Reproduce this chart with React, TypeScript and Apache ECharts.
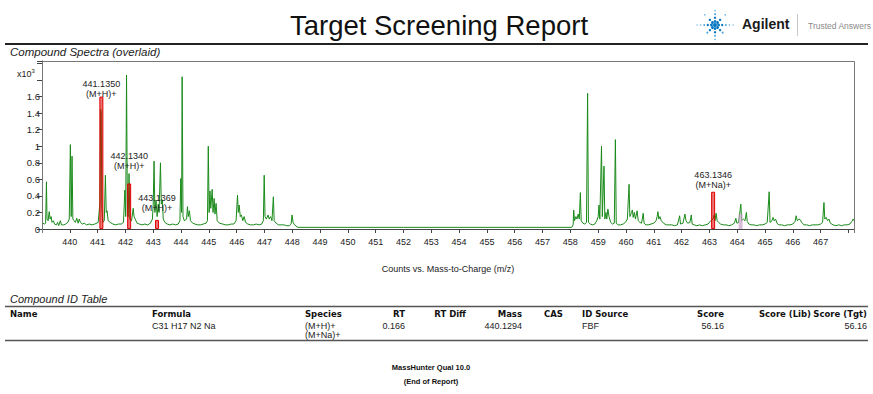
import React, { useEffect, useRef } from "react";
import * as echarts from "echarts";

// Green overlaid spectrum: [m/z, counts x10^3]
const spectrum: [number, number][] = [
  [439.03, 0.07], [439.1, 0.06], [439.13, 0.07], [439.16, 0.57], [439.18, 0.12], [439.22, 0.1], [439.26, 0.21], [439.29, 0.12], [439.33, 0.15], [439.36, 0.08], [439.41, 0.1], [439.45, 0.06], [439.52, 0.05], [439.56, 0.08], [439.6, 0.04], [439.66, 0.1], [439.7, 0.05], [439.78, 0.05], [439.85, 0.06], [439.93, 0.08], [439.98, 0.12],
  [440.02, 1.02], [440.05, 0.15], [440.08, 0.88], [440.11, 0.12], [440.15, 0.1], [440.2, 0.08], [440.25, 0.13], [440.3, 0.07], [440.34, 0.12], [440.38, 0.08], [440.45, 0.06], [440.52, 0.07], [440.6, 0.05], [440.7, 0.06], [440.8, 0.05], [440.9, 0.06],
  [441.02, 0.08], [441.08, 0.3], [441.11, 1.45], [441.13, 1.4], [441.15, 0.25], [441.19, 0.08], [441.24, 0.1], [441.28, 0.65], [441.31, 0.2], [441.34, 0.22], [441.38, 0.1], [441.45, 0.08], [441.55, 0.06], [441.65, 0.05], [441.75, 0.06], [441.85, 0.06], [441.93, 0.08],
  [441.98, 0.47], [442.01, 0.15], [442.04, 1.86], [442.07, 0.2], [442.1, 0.15], [442.13, 0.67], [442.16, 0.12], [442.22, 0.1], [442.28, 0.25], [442.31, 0.15], [442.35, 0.12], [442.42, 0.07], [442.5, 0.06], [442.6, 0.05], [442.7, 0.06], [442.8, 0.05], [442.9, 0.07],
  [442.97, 0.12], [443.0, 0.3], [443.03, 0.82], [443.06, 0.2], [443.1, 0.35], [443.14, 0.15], [443.18, 0.3], [443.21, 0.2], [443.26, 0.8], [443.29, 0.3], [443.33, 0.35], [443.36, 0.12], [443.42, 0.08], [443.5, 0.06], [443.6, 0.05], [443.7, 0.06], [443.8, 0.05], [443.9, 0.06],
  [443.96, 0.1], [443.99, 0.61], [444.02, 0.2], [444.04, 1.84], [444.07, 0.15], [444.12, 0.1], [444.2, 0.12], [444.23, 0.27], [444.26, 0.15], [444.3, 0.22], [444.34, 0.1], [444.42, 0.07], [444.5, 0.06], [444.6, 0.05], [444.7, 0.05], [444.8, 0.06], [444.9, 0.07],
  [444.95, 0.1], [444.98, 1.0], [445.01, 0.2], [445.04, 0.46], [445.07, 0.25], [445.12, 0.48], [445.15, 0.2], [445.19, 0.37], [445.22, 0.18], [445.26, 0.31], [445.3, 0.1], [445.38, 0.07], [445.5, 0.06], [445.6, 0.05], [445.7, 0.05], [445.8, 0.06], [445.9, 0.06],
  [445.98, 0.1], [446.03, 0.41], [446.06, 0.2], [446.09, 0.29], [446.13, 0.15], [446.17, 0.17], [446.22, 0.1], [446.27, 0.15], [446.32, 0.08], [446.4, 0.06], [446.5, 0.05], [446.6, 0.05], [446.7, 0.06], [446.8, 0.05], [446.9, 0.06],
  [446.96, 0.1], [446.99, 0.65], [447.02, 0.15], [447.07, 0.12], [447.13, 0.17], [447.17, 0.12], [447.22, 0.15], [447.27, 0.1], [447.32, 0.39], [447.35, 0.1], [447.42, 0.07], [447.5, 0.05], [447.6, 0.05], [447.7, 0.05], [447.8, 0.04], [447.9, 0.04],
  [447.96, 0.06], [447.99, 0.17], [448.03, 0.08], [448.08, 0.05], [448.2, 0.02], [450.0, 0.02], [452.0, 0.02], [454.0, 0.02], [456.0, 0.02], [458.05, 0.02],
  [458.1, 0.05], [458.12, 0.23], [458.15, 0.1], [458.2, 0.15], [458.24, 0.12], [458.28, 0.18], [458.32, 0.12], [458.36, 0.44], [458.39, 0.1], [458.45, 0.07], [458.52, 0.06], [458.58, 0.08], [458.62, 1.64], [458.65, 0.08], [458.72, 0.06], [458.8, 0.05], [458.88, 0.06],
  [458.95, 0.1], [459.0, 0.15], [459.03, 0.29], [459.06, 0.12], [459.12, 1.0], [459.15, 0.15], [459.21, 0.76], [459.24, 0.12], [459.28, 0.2], [459.31, 0.12], [459.35, 0.24], [459.39, 0.15], [459.45, 0.08], [459.52, 0.06], [459.58, 0.07], [459.62, 1.08], [459.65, 0.07], [459.72, 0.05], [459.8, 0.05], [459.9, 0.06],
  [459.98, 0.08], [460.05, 0.12], [460.11, 0.54], [460.14, 0.15], [460.2, 0.2], [460.23, 0.23], [460.26, 0.14], [460.3, 0.2], [460.34, 0.12], [460.4, 0.22], [460.44, 0.1], [460.5, 0.08], [460.56, 0.07], [460.62, 0.19], [460.65, 0.07], [460.72, 0.05], [460.8, 0.05], [460.9, 0.06],
  [461.0, 0.07], [461.08, 0.1], [461.12, 0.15], [461.15, 0.21], [461.18, 0.12], [461.22, 0.15], [461.27, 0.1], [461.35, 0.07], [461.45, 0.05], [461.55, 0.05], [461.65, 0.05], [461.75, 0.04], [461.85, 0.05], [461.93, 0.16], [461.96, 0.06],
  [462.05, 0.07], [462.12, 0.18], [462.16, 0.1], [462.22, 0.07], [462.3, 0.08], [462.35, 0.17], [462.38, 0.06], [462.45, 0.05], [462.55, 0.04], [462.65, 0.05], [462.75, 0.04], [462.85, 0.05], [462.95, 0.06],
  [463.05, 0.1], [463.13, 0.12], [463.17, 0.17], [463.2, 0.1], [463.24, 0.19], [463.28, 0.1], [463.33, 0.08], [463.4, 0.06], [463.5, 0.05], [463.6, 0.05], [463.7, 0.04], [463.8, 0.05], [463.9, 0.07],
  [463.95, 0.13], [463.99, 0.07], [464.05, 0.08], [464.13, 0.3], [464.16, 0.1], [464.22, 0.12], [464.28, 0.1], [464.33, 0.2], [464.36, 0.09], [464.42, 0.06], [464.5, 0.05], [464.6, 0.05], [464.7, 0.04], [464.8, 0.05], [464.9, 0.05],
  [465.0, 0.06], [465.08, 0.08], [465.15, 0.45], [465.18, 0.08], [465.25, 0.1], [465.29, 0.14], [465.33, 0.1], [465.38, 0.12], [465.43, 0.07], [465.5, 0.05], [465.6, 0.05], [465.7, 0.04], [465.8, 0.05], [465.9, 0.05],
  [466.0, 0.06], [466.08, 0.09], [466.12, 0.16], [466.16, 0.1], [466.22, 0.12], [466.27, 0.11], [466.32, 0.08], [466.4, 0.05], [466.5, 0.05], [466.6, 0.04], [466.7, 0.05], [466.8, 0.05], [466.9, 0.05],
  [467.0, 0.06], [467.07, 0.08], [467.12, 0.32], [467.15, 0.12], [467.2, 0.14], [467.25, 0.1], [467.3, 0.12], [467.35, 0.07], [467.45, 0.05], [467.55, 0.04], [467.65, 0.05], [467.75, 0.04], [467.85, 0.05], [467.95, 0.05],
  [468.05, 0.06], [468.12, 0.09], [468.17, 0.12], [468.2, 0.1],
];

// Red predicted isotope bars
const isotopeMz = [441.135, 442.134, 443.1369, 463.1346];
const isotopeCounts = [1.6, 0.55, 0.11, 0.45];
const isotopeMassLabels = ["441.1350", "442.1340", "443.1369", "463.1346"];
const isotopeSpecies = ["(M+H)+", "(M+H)+", "(M+H)+", "(M+Na)+"];

// Faint second overlay
const overlayMz = [464.12];
const overlayCounts = [0.18];

// Axis extents
const xMin = 439;
const xMax = 468.2;
const yMin = 0;
const yMax = 2.03;

// Table
const tableHeaders = ["Name", "Formula", "Species", "RT", "RT Diff", "Mass", "CAS", "ID Source", "Score", "Score (Lib)", "Score (Tgt)"];
const tableRow = ["", "C31 H17 N2 Na", "(M+H)+\n(M+Na)+", "0.166", "", "440.1294", "", "FBF", "56.16", "", "56.16"];

const titleText = "Target Screening Report";
const sectionSpectra = "Compound Spectra (overlaid)";
const sectionTable = "Compound ID Table";
const footerLines = ["MassHunter Qual 10.0", "(End of Report)"];

const SANS = "'Liberation Sans', Arial, sans-serif";
const BOLD = "'DejaVu Sans', Verdana, sans-serif";

export default function App() {
  const ref = useRef<HTMLDivElement>(null);
  useEffect(() => {
    if (!ref.current) return;
    const chart = echarts.init(ref.current, undefined, { renderer: "svg" });

    const colX = [10, 152, 305, 405, 466, 522, 544, 582, 724, 811, 867];
    const colAlign = ["left", "left", "left", "right", "right", "right", "left", "left", "right", "right", "right"];
    const labelDist = [-2, 12, 7, 2];

    const graphics: any[] = [];
    // title
    graphics.push({ type: "text", x: 439, y: 25, style: { text: titleText, fontFamily: SANS, fontSize: 27.5, fill: "#111", align: "center", verticalAlign: "middle" } });
    // spark logo
    const cx = 715, cy = 25;
    for (let k = 0; k < 8; k++) {
      const a = (k * Math.PI) / 4;
      const horiz = k % 4 === 0;
      const n = horiz ? 5 : 4;
      for (let j = 1; j <= n; j++) {
        const d = j * 3.6;
        graphics.push({ type: "circle", shape: { cx: cx + Math.cos(a) * d, cy: cy + Math.sin(a) * d, r: Math.max(0.55, 1.7 - j * 0.25) }, style: { fill: j < 3 ? "#0a78c2" : "#4aa3dc" } });
      }
    }
    graphics.push({ type: "circle", shape: { cx, cy, r: 2 }, style: { fill: "#0a78c2" } });
    graphics.push({ type: "text", x: 742, y: 24, style: { text: "Agilent", fontFamily: SANS, fontWeight: "bold", fontSize: 14, fill: "#1a1a1a", verticalAlign: "middle" } });
    graphics.push({ type: "line", shape: { x1: 797.5, y1: 14, x2: 797.5, y2: 36 }, style: { stroke: "#c8c8c8", lineWidth: 1 } });
    graphics.push({ type: "text", x: 808, y: 26, style: { text: "Trusted Answers", fontFamily: SANS, fontSize: 8.5, fill: "#8a8a8a", verticalAlign: "middle" } });
    // rule under title
    graphics.push({ type: "line", shape: { x1: 5, y1: 44, x2: 868, y2: 44 }, style: { stroke: "#222", lineWidth: 2 } });
    graphics.push({ type: "text", x: 10, y: 52, style: { text: sectionSpectra, fontFamily: SANS, fontStyle: "italic", fontSize: 11.5, fill: "#222", verticalAlign: "middle" } });
    // plot frame
    graphics.push({ type: "polyline", shape: { points: [[42.5, 233], [42.5, 61.5], [854.5, 61.5], [854.5, 233]] }, style: { stroke: "#777", lineWidth: 1, fill: "none" }, z: 1 });
    // x10^3
    graphics.push({ type: "text", x: 17, y: 74, style: { text: "{a|x10}{b|3}", rich: { a: { fontFamily: SANS, fontSize: 9, fill: "#222" }, b: { fontFamily: SANS, fontSize: 6, fill: "#222", padding: [0, 0, 6, 0] } }, verticalAlign: "middle" } });
    // table
    graphics.push({ type: "text", x: 10, y: 299, style: { text: sectionTable, fontFamily: SANS, fontStyle: "italic", fontSize: 11, fill: "#222", verticalAlign: "middle" } });
    graphics.push({ type: "line", shape: { x1: 5, y1: 306.5, x2: 868, y2: 306.5 }, style: { stroke: "#555", lineWidth: 1.5 } });
    graphics.push({ type: "line", shape: { x1: 5, y1: 340.5, x2: 868, y2: 340.5 }, style: { stroke: "#555", lineWidth: 1.5 } });
    tableHeaders.forEach((h, i) => {
      graphics.push({ type: "text", x: colX[i], y: 314, style: { text: h, fontFamily: BOLD, fontWeight: "bold", fontSize: 8.5, fill: "#111", align: colAlign[i], verticalAlign: "middle" } });
    });
    tableRow.forEach((v, i) => {
      if (!v) return;
      graphics.push({ type: "text", x: colX[i], y: 322, style: { text: v, fontFamily: SANS, fontSize: 9, lineHeight: 8.5, fill: "#222", align: colAlign[i], verticalAlign: "top" } });
    });
    graphics.push({ type: "text", x: 431, y: 367, style: { text: footerLines[0], fontFamily: SANS, fontWeight: "bold", fontSize: 7.5, fill: "#111", align: "center", verticalAlign: "middle" } });
    graphics.push({ type: "text", x: 431, y: 381, style: { text: footerLines[1], fontFamily: SANS, fontWeight: "bold", fontSize: 7.5, fill: "#111", align: "center", verticalAlign: "middle" } });

    const barData: any[] = isotopeMz.map((m, i) => ({
      value: [m, isotopeCounts[i]],
      label: { show: true, distance: labelDist[i] },
    }));
    overlayMz.forEach((m, i) => {
      barData.push({ value: [m, overlayCounts[i]], itemStyle: { color: "rgba(200,160,200,0.7)", borderColor: "rgba(200,160,200,0.7)", borderWidth: 0 }, label: { show: false } });
    });

    chart.setOption({
      animation: false,
      backgroundColor: "#fff",
      grid: { left: 42, right: 19, top: 61, bottom: 165, containLabel: false },
      xAxis: {
        type: "value",
        min: xMin,
        max: xMax,
        interval: 1,
        offset: 4,
        splitLine: { show: false },
        axisLine: { lineStyle: { color: "#444", width: 1 } },
        axisTick: { length: 4, lineStyle: { color: "#444" } },
        axisLabel: {
          margin: 4,
          fontSize: 9,
          fontFamily: SANS,
          color: "#222",
          formatter: (v: number) => (Math.abs(v - Math.round(v)) < 1e-6 && v >= 440 && v <= 467 ? String(Math.round(v)) : ""),
        },
        name: "Counts vs. Mass-to-Charge (m/z)",
        nameLocation: "middle",
        nameGap: 31,
        nameTextStyle: { fontSize: 9, fontFamily: SANS, color: "#222" },
      },
      yAxis: {
        type: "value",
        min: yMin,
        max: yMax,
        interval: 0.2,
        splitLine: { show: false },
        axisLine: { show: true, lineStyle: { color: "#444", width: 1 } },
        axisTick: { show: true, length: 5, lineStyle: { color: "#444" } },
        axisLabel: {
          margin: 2,
          fontSize: 9.5,
          fontFamily: SANS,
          color: "#222",
          formatter: (v: number) => (v > 1.7 ? "" : String(+v.toFixed(1))),
        },
      },
      graphic: graphics,
      series: [
        {
          type: "line",
          data: spectrum,
          showSymbol: false,
          symbol: "none",
          lineStyle: { color: "#1a8a1a", width: 1 },
          z: 2,
        },
        {
          type: "bar",
          data: barData,
          barWidth: 4,
          itemStyle: { color: "rgba(220,0,0,0.55)", borderColor: "#e00000", borderWidth: 1 },
          label: {
            show: true,
            position: "top",
            fontSize: 9,
            lineHeight: 10,
            fontFamily: SANS,
            color: "#222",
            formatter: (p: any) => `${isotopeMassLabels[p.dataIndex]}\n${isotopeSpecies[p.dataIndex]}`,
          },
          z: 3,
        },
      ],
    });
    return () => chart.dispose();
  }, []);
  return <div ref={ref} style={{ position: "fixed", left: 0, top: 0, width: 873, height: 394, background: "#fff" }} />;
}
